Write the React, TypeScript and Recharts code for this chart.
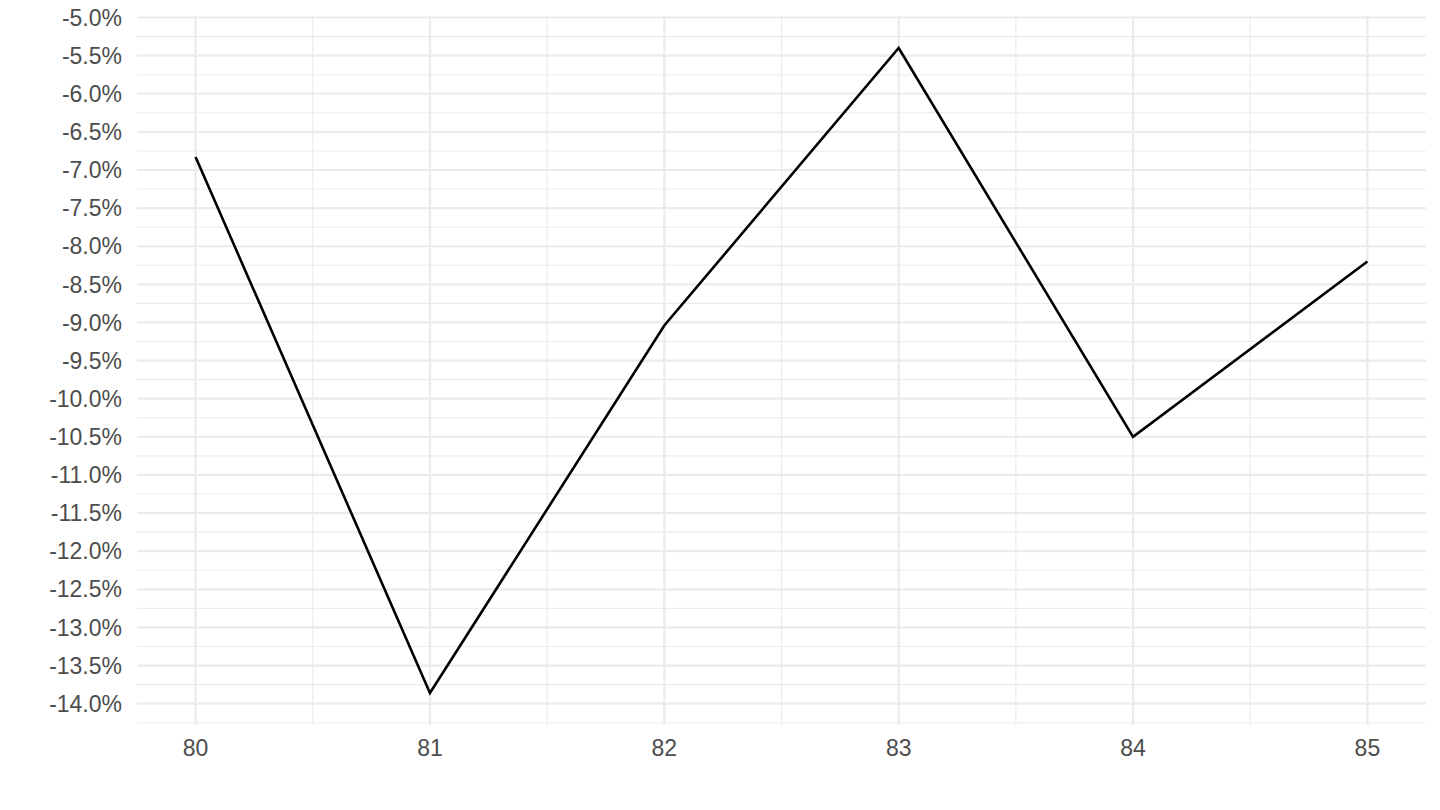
import React from 'react';
import { LineChart, Line, XAxis, YAxis, CartesianGrid } from 'recharts';

// values
const years = [80, 81, 82, 83, 84, 85];
const changePct = [-6.83, -13.86, -9.04, -5.4, -10.5, -8.2];

const yTicks = [-14, -13.5, -13, -12.5, -12, -11.5, -11, -10.5, -10, -9.5, -9, -8.5, -8, -7.5, -7, -6.5, -6, -5.5, -5];
const yMinor = [-14.25, -13.75, -13.25, -12.75, -12.25, -11.75, -11.25, -10.75, -10.25, -9.75, -9.25, -8.75, -8.25, -7.75, -7.25, -6.75, -6.25, -5.75, -5.25];
const xMinor = [80.5, 81.5, 82.5, 83.5, 84.5];

const data = years.map((year, i) => ({ year, value: changePct[i] }));

const GRID = '#ebebeb';
const TEXT = '#4d4d4d';
const FONT = "'Liberation Sans', Arial, sans-serif";

export default function App() {
  return (
    <div style={{ position: 'absolute', left: 0, top: 0, width: 1440, height: 810, background: '#fff' }}>
      <LineChart width={1440} height={810} data={data} margin={{ top: 16, right: 14, bottom: 0, left: 0 }}>
        <CartesianGrid stroke={GRID} strokeWidth={1.1} horizontalValues={yMinor} verticalValues={xMinor} />
        <CartesianGrid stroke={GRID} strokeWidth={2.2} horizontalValues={yTicks} verticalValues={years} />
        <XAxis
          dataKey="year"
          type="number"
          domain={[79.75, 85.25]}
          ticks={years}
          axisLine={false}
          tickLine={false}
          tickSize={5}
          tickMargin={10}
          height={85}
          tick={{ fill: TEXT, fontSize: 23, fontFamily: FONT }}
        />
        <YAxis
          type="number"
          domain={[-14.28, -4.98]}
          ticks={yTicks}
          allowDataOverflow
          axisLine={false}
          tickLine={false}
          tickSize={5}
          tickMargin={10}
          width={137}
          tickFormatter={(v: number) => `${v.toFixed(1)}%`}
          tick={{ fill: TEXT, fontSize: 23, fontFamily: FONT }}
        />
        <Line
          type="linear"
          dataKey="value"
          stroke="#000"
          strokeWidth={2.6}
          dot={false}
          activeDot={false}
          isAnimationActive={false}
        />
      </LineChart>
    </div>
  );
}
